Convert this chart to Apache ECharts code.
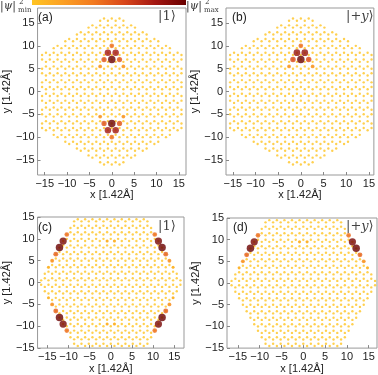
<!DOCTYPE html>
<html>
<head>
<meta charset="utf-8">
<script src="https://cdn.jsdelivr.net/npm/echarts@6/dist/echarts.min.js"></script>
<style>
  html, body { margin: 0; padding: 0; background: #fff; }
  #main { width: 378px; height: 375px; }
</style>
</head>
<body>
<div id="main"></div>
<script>
// lengths in units of the C-C bond (1.42 Å)
const S = Math.sqrt(3);
const ticks = [-15, -10, -5, 0, 5, 10, 15];
const panelTags = ["(a)", "(b)", "(c)", "(d)"];
const stateTags = ["{n||1⟩}", "{n||+}{i|y}{n|⟩}", "{n||1⟩}", "{n||+}{i|y}{n|⟩}"];

// flake cuts: armchair hexagon (a, b), zigzag hexagon (c, d)
const armchairSide = 15.6;
const armchairSlant = 15.25;
const zigzagEdge = 14.6;

// bright sites: [x, y, |psi|^2 relative to max]
const spotsA = [
  [0, 7, 1], [-0.866, 8.5, 0.8], [0.866, 8.5, 0.8],
  [-1.732, 7, 0.55], [1.732, 7, 0.55], [0, 10, 0.45],
  [-2.598, 5.5, 0.28], [2.598, 5.5, 0.28],
  [0, -7, 1], [-0.866, -8.5, 0.8], [0.866, -8.5, 0.8],
  [-1.732, -7, 0.55], [1.732, -7, 0.55], [0, -10, 0.45],
  [-2.598, -5.5, 0.28], [2.598, -5.5, 0.28]
];
const spotsB = [
  [0, 7, 1], [-0.866, 8.5, 0.85], [0.866, 8.5, 0.85],
  [-1.732, 7, 0.6], [1.732, 7, 0.6], [0, 10, 0.45],
  [-2.598, 5.5, 0.28], [2.598, 5.5, 0.28]
];
const spotsC = [
  [-12.124, 8, 1], [-11.258, 9.5, 0.95], [-12.99, 6.5, 0.5], [-10.392, 11, 0.45], [-13.856, 5, 0.3], [-14.722, 3.5, 0.12],
  [12.124, 8, 1], [11.258, 9.5, 0.95], [12.99, 6.5, 0.5], [10.392, 11, 0.45], [13.856, 5, 0.3], [14.722, 3.5, 0.12],
  [-12.124, -8, 1], [-11.258, -9.5, 0.95], [-12.99, -6.5, 0.5], [-10.392, -11, 0.45], [-13.856, -5, 0.3], [-14.722, -3.5, 0.12],
  [12.124, -8, 1], [11.258, -9.5, 0.95], [12.99, -6.5, 0.5], [10.392, -11, 0.45], [13.856, -5, 0.3], [14.722, -3.5, 0.12],
  [-0.866, 9.5, 0.14], [0.866, 9.5, 0.14], [-0.866, -9.5, 0.14], [0.866, -9.5, 0.14]
];
const spotsD = [
  [-12.124, 8, 1], [-11.258, 9.5, 0.95], [-12.99, 6.5, 0.5], [-10.392, 11, 0.45], [-13.856, 5, 0.3], [-14.722, 3.5, 0.12],
  [12.124, 8, 1], [11.258, 9.5, 0.95], [12.99, 6.5, 0.5], [10.392, 11, 0.45], [13.856, 5, 0.3], [14.722, 3.5, 0.12],
  [-0.866, 9.5, 0.14], [0.866, 9.5, 0.14]
];

const colorStops = ["#ffc423", "#fca024", "#f27a20", "#d8461a", "#a31611", "#6a0000"];

// graphene sites, A at y = 1.5j - 0.5, B at y = 1.5j + 0.5
function buildFlake(inside) {
  let pts = [];
  for (let j = -14; j <= 14; j++) {
    for (let i = -30; i <= 30; i++) {
      const x = S * (i + j / 2 - 0.5);
      const yA = 1.5 * j - 0.5, yB = 1.5 * j + 0.5;
      if (inside(x, yA)) pts.push([x, yA, 0]);
      if (inside(x, yB)) pts.push([x, yB, 0]);
    }
  }
  // drop dangling atoms
  let changed = true;
  while (changed) {
    const keep = pts.filter(p => pts.filter(q => q !== p &&
      Math.hypot(p[0] - q[0], p[1] - q[1]) < 1.1).length >= 2);
    changed = keep.length !== pts.length;
    pts = keep;
  }
  return pts;
}

const armchairFlake = buildFlake((x, y) =>
  Math.abs(x) <= armchairSide && Math.abs(x) / 2 + Math.abs(y) * S / 2 <= armchairSlant);
const zigzagFlake = buildFlake((x, y) =>
  Math.abs(y) <= zigzagEdge && Math.abs(x) * S / 2 + Math.abs(y) / 2 <= zigzagEdge);

const flakes = [armchairFlake, armchairFlake, zigzagFlake, zigzagFlake];
const spots = [spotsA, spotsB, spotsC, spotsD];

const grids = [
  { left: 32, top: 8, width: 154, height: 167 },
  { left: 226, top: 8, width: 150, height: 167 },
  { left: 32, top: 217, width: 152, height: 134 },
  { left: 227, top: 218, width: 150, height: 133 }
];
const xRanges = [[-16.6, 16.6], [-16.5, 16.1], [-17.3, 17.3], [-17.5, 16.9]];
const yRanges = [[-18.3, 18.3], [-18.3, 18.3], [-15, 15], [-15, 15]];

const font = "Liberation Sans";
const minus = v => String(v).replace("-", "\u2212");

const xAxes = grids.map((g, k) => ({
  type: "value", gridIndex: k, min: xRanges[k][0], max: xRanges[k][1],
  name: "x [1.42Å]", nameLocation: "middle", nameGap: k < 2 ? 14 : 12,
  nameTextStyle: { color: "#222", fontSize: 11, fontFamily: font },
  axisLine: { show: false, onZero: false }, splitLine: { show: false },
  axisTick: { inside: true, length: 3, customValues: ticks, lineStyle: { color: "#888" } },
  axisLabel: { customValues: ticks, formatter: minus, margin: 3, color: "#222", fontSize: 11, fontFamily: font }
}));
const yAxes = grids.map((g, k) => ({
  type: "value", gridIndex: k, min: yRanges[k][0], max: yRanges[k][1],
  name: "y [1.42Å]", nameLocation: "middle", nameGap: 13, nameRotate: 90,
  nameTextStyle: { color: "#222", fontSize: 11, fontFamily: font },
  axisLine: { show: false, onZero: false }, splitLine: { show: false },
  axisTick: { inside: true, length: 3, customValues: ticks, lineStyle: { color: "#888" } },
  axisLabel: { customValues: ticks, formatter: minus, margin: 3, color: "#222", fontSize: 11, fontFamily: font }
}));

const series = [];
flakes.forEach((f, k) => {
  series.push({ type: "scatter", xAxisIndex: k, yAxisIndex: k, data: f, symbol: "circle", silent: true, z: 2 });
});
spots.forEach((s, k) => {
  series.push({ type: "scatter", xAxisIndex: k, yAxisIndex: k, data: s, symbol: "circle", silent: true, z: 3 });
});

const tagPos = [[38, 12], [232, 12], [38, 222], [233, 222]];
const statePos = [[158, 10], [346, 10], [158, 220], [346, 220]];
const graphic = [
  {
    type: "rect", shape: { x: 32, y: 0, width: 154, height: 5 },
    style: { fill: new echarts.graphic.LinearGradient(0, 0, 1, 0,
      colorStops.map((c, i) => ({ offset: i / (colorStops.length - 1), color: c }))) }
  },
  { type: "text", x: 0, y: 1, style: { text: "|ψ|", font: "italic 11px 'DejaVu Serif'", fill: "#333" } },
  { type: "text", x: 19, y: -1, style: { text: "2", font: "7px 'DejaVu Serif'", fill: "#333" } },
  { type: "text", x: 18, y: 7, style: { text: "min", font: "7px 'DejaVu Serif'", fill: "#333" } },
  { type: "text", x: 186, y: 1, style: { text: "|ψ|", font: "italic 11px 'DejaVu Serif'", fill: "#333" } },
  { type: "text", x: 205, y: -1, style: { text: "2", font: "7px 'DejaVu Serif'", fill: "#333" } },
  { type: "text", x: 204, y: 7, style: { text: "max", font: "7px 'DejaVu Serif'", fill: "#333" } }
];
panelTags.forEach((t, k) => graphic.push({
  type: "text", x: tagPos[k][0], y: tagPos[k][1],
  style: { text: t, font: "12px 'Liberation Sans'", fill: "#222" }
}));
stateTags.forEach((t, k) => graphic.push({
  type: "text", x: statePos[k][0], y: statePos[k][1],
  style: {
    text: t, fill: "#444",
    rich: {
      n: { fontFamily: "DejaVu Serif", fontSize: 13, fill: "#444" },
      i: { fontFamily: "DejaVu Serif", fontStyle: "italic", fontSize: 13, fill: "#444" }
    }
  }
}));

const chart = echarts.init(document.getElementById("main"));
chart.setOption({
  animation: false,
  backgroundColor: "#fff",
  grid: grids.map(g => Object.assign({ show: true, borderColor: "#999", borderWidth: 1, containLabel: false }, g)),
  xAxis: xAxes,
  yAxis: yAxes,
  visualMap: {
    show: false, type: "continuous", min: 0, max: 1, dimension: 2,
    seriesIndex: series.map((s, i) => i),
    inRange: { color: colorStops, symbolSize: [2.4, 7.5] }
  },
  series: series,
  graphic: graphic
});
</script>
</body>
</html>
